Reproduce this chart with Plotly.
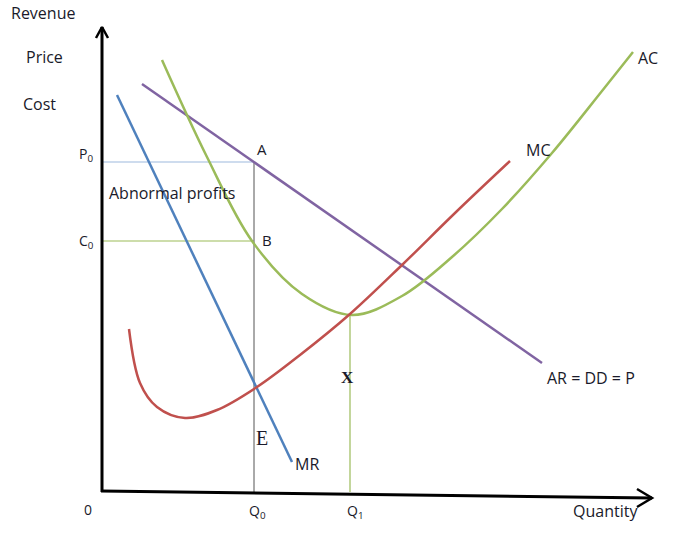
import plotly.graph_objects as go

# ---- data (quantity, price units; origin at the axes corner) ----
mr_q = [16, 191]
mr_p = [397, 30]

ar_q = [41, 441]
ar_p = [408, 129]

ac_q = [61, 106, 151, 201, 251, 301, 351, 401, 451, 501, 532]
ac_p = [432, 335, 251, 198, 177, 196, 235, 283, 339, 401, 440]

mc_q = [28, 39, 56, 84, 116, 156, 199, 249, 301, 354, 409]
mc_p = [163, 109, 85, 74, 82, 105, 137, 178, 227, 279, 331]

q0 = 153
q1 = 249
p0 = 330
c0 = 251
mc_at_q1 = 178

BLUE = "#4F81BD"
PURPLE = "#8064A2"
GREEN = "#9BBB59"
RED = "#C0504D"
TXT = "#1a1a2a"

fig = go.Figure()

def line(x, y, color, width, shape="linear"):
    fig.add_trace(go.Scatter(x=x, y=y, mode="lines",
                             line=dict(color=color, width=width, shape=shape),
                             hoverinfo="skip", showlegend=False))

# guide lines
line([2, q0], [p0, p0], "#9DB9DD", 1)
line([2, q0], [c0, c0], GREEN, 1.2)
line([q0, q0], [0, p0], "#555555", 1)
line([q1, q1], [0, mc_at_q1], GREEN, 1.2)

# curves
line(mr_q, mr_p, BLUE, 2.5)
line(ar_q, ar_p, PURPLE, 2.5)
line(ac_q, ac_p, GREEN, 2.5, "spline")
line(mc_q, mc_p, RED, 2.5, "spline")

# axes with arrows
line([1, 1], [0, 465], "black", 3)
line([-5, 1, 7], [454, 465, 454], "black", 2.5)
line([0, 551], [1, -6], "black", 3)
line([536, 551, 536], [3, -6, -15], "black", 2.5)

def px(x):
    return x - 101

def py(y):
    return 492 - y

SANS = "Open Sans, Lato, sans-serif"
SERIF = "Liberation Serif, DejaVu Serif, serif"

def label(text, x, y, size=14, xanchor="center", family=SANS):
    fig.add_annotation(x=px(x), y=py(y), text=text, showarrow=False,
                       xanchor=xanchor, yanchor="middle",
                       font=dict(size=size, color=TXT, family=family))

label("Revenue", 9, 13, 16, "left")
label("Price", 44, 57, 16)
label("Cost", 39, 104, 16)
label("P<sub>0</sub>", 86, 154, 14)
label("C<sub>0</sub>", 86, 241, 14)
label("A", 262, 149, 15)
label("B", 267, 240, 15)
label("Abnormal profits", 107, 193, 16, "left")
label("MC", 538, 150, 16)
label("AC", 648, 58, 16)
label("AR = DD = P", 545, 378, 16, "left")
label("MR", 293, 464, 16, "left")
label("<b>X</b>", 347, 377, 17, family=SERIF)
label("E", 262, 438, 20, family=SERIF)
label("0", 88, 509, 14)
label("Q<sub>0</sub>", 257, 511, 14)
label("Q<sub>1</sub>", 355, 511, 14)
label("Quantity", 605, 511, 16)

fig.update_layout(
    width=697, height=546,
    margin=dict(l=0, r=0, t=0, b=0),
    paper_bgcolor="white", plot_bgcolor="white",
    xaxis=dict(range=[-101, 596], visible=False, fixedrange=True),
    yaxis=dict(range=[-54, 492], visible=False, fixedrange=True),
)

fig.write_html("out.html")
